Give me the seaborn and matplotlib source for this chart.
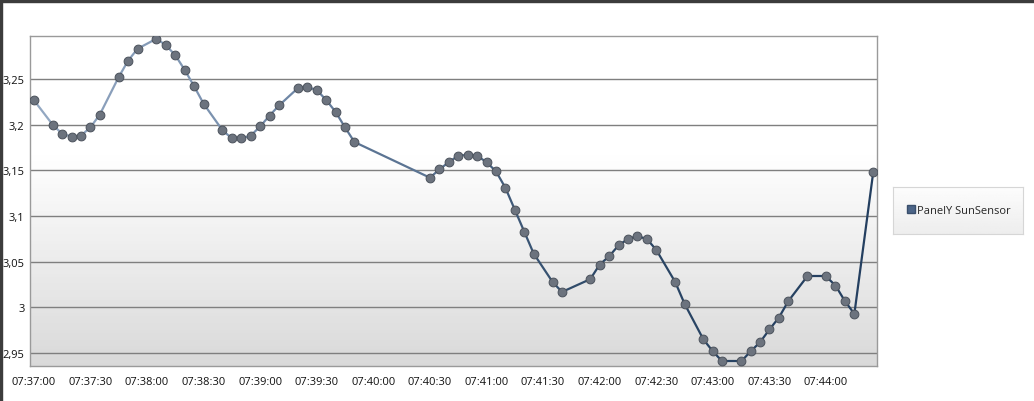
import numpy as np
import pandas as pd
import matplotlib
matplotlib.use("Agg")
import matplotlib.pyplot as plt
import matplotlib.dates as mdates
from matplotlib.colors import LinearSegmentedColormap
from matplotlib.lines import Line2D
from matplotlib.patches import Rectangle
import seaborn as sns

# data (time of sample, sensor value)
times = [
    "07:37:00", "07:37:10", "07:37:15", "07:37:20", "07:37:25", "07:37:30", "07:37:35",
    "07:37:45", "07:37:50", "07:37:55", "07:38:05", "07:38:10", "07:38:15", "07:38:20",
    "07:38:25", "07:38:30", "07:38:40", "07:38:45", "07:38:50", "07:38:55", "07:39:00",
    "07:39:05", "07:39:10", "07:39:20", "07:39:25", "07:39:30", "07:39:35", "07:39:40",
    "07:39:45", "07:39:50", "07:40:30", "07:40:35", "07:40:40", "07:40:45", "07:40:50",
    "07:40:55", "07:41:00", "07:41:05", "07:41:10", "07:41:15", "07:41:20", "07:41:25",
    "07:41:35", "07:41:40", "07:41:55", "07:42:00", "07:42:05", "07:42:10", "07:42:15",
    "07:42:20", "07:42:25", "07:42:30", "07:42:40", "07:42:45", "07:42:55", "07:43:00",
    "07:43:05", "07:43:15", "07:43:20", "07:43:25", "07:43:30", "07:43:35", "07:43:40",
    "07:43:50", "07:44:00", "07:44:05", "07:44:10", "07:44:15", "07:44:25",
]
values = [
    3.227, 3.200, 3.190, 3.187, 3.188, 3.197, 3.211,
    3.252, 3.270, 3.283, 3.294, 3.287, 3.276, 3.260,
    3.242, 3.223, 3.194, 3.185, 3.185, 3.188, 3.198,
    3.210, 3.221, 3.240, 3.241, 3.238, 3.227, 3.214,
    3.197, 3.181, 3.142, 3.151, 3.159, 3.166, 3.167,
    3.166, 3.159, 3.149, 3.131, 3.107, 3.083, 3.059,
    3.028, 3.017, 3.031, 3.047, 3.056, 3.068, 3.075,
    3.078, 3.075, 3.063, 3.028, 3.004, 2.965, 2.952,
    2.941, 2.941, 2.952, 2.962, 2.976, 2.989, 3.007,
    3.034, 3.034, 3.024, 3.007, 2.993, 3.148,
]
series_name = "PanelY SunSensor"
y_ticks = [2.95, 3.0, 3.05, 3.1, 3.15, 3.2, 3.25]
y_tick_labels = ["2,95", "3", "3,05", "3,1", "3,15", "3,2", "3,25"]

df = pd.DataFrame({"time": pd.to_datetime("2020-01-01 " + pd.Series(times)), "value": values})

# split the line into segments so the colour can fade from light to dark blue
seg_rows = []
for i in range(len(df) - 1):
    for j in (i, i + 1):
        seg_rows.append({"time": df["time"][j], "value": df["value"][j], "seg": i})
seg_df = pd.DataFrame(seg_rows)

line_cmap = LinearSegmentedColormap.from_list("fade", ["#93a8c2", "#6f87a6", "#2c4766", "#243f60"])

sns.set_style("white")
plt.rcParams["font.family"] = ["Open Sans", "DejaVu Sans"]

W, H = 1034, 402
fig = plt.figure(figsize=(W / 100, H / 100), dpi=100)
ax = fig.add_axes([30 / W, 35 / H, 847 / W, 330 / H])

# gradient background of the plot area
grad = np.concatenate([np.ones(34), np.linspace(1.0, 0.85, 66)]).reshape(-1, 1)
ax.imshow(grad, cmap="gray", vmin=0, vmax=1, aspect="auto",
          extent=[0, 1, 0, 1], transform=ax.transAxes, zorder=0, origin="upper")

sns.lineplot(data=seg_df, x="time", y="value", hue="seg", units="seg", estimator=None,
             palette=line_cmap, linewidth=1.6, legend=False, ax=ax, zorder=3)
sns.scatterplot(data=df, x="time", y="value", color="#6c737e", edgecolor="#4b525c",
                linewidth=0.7, s=40, ax=ax, zorder=4)

ax.set_ylim(2.936, 3.297)
ax.set_xlim(pd.Timestamp("2020-01-01 07:36:58"), pd.Timestamp("2020-01-01 07:44:27"))
ax.set_yticks(y_ticks)
ax.set_yticklabels(y_tick_labels)
ax.xaxis.set_major_locator(mdates.SecondLocator(bysecond=[0, 30]))
ax.xaxis.set_major_formatter(mdates.DateFormatter("%H:%M:%S"))
ax.set_xlabel("")
ax.set_ylabel("")
ax.grid(axis="y", color="#7f7f7f", linewidth=1.0, zorder=1)
ax.set_axisbelow(True)
for sp in ax.spines.values():
    sp.set_color("#9a9a9a")
    sp.set_linewidth(1.0)
ax.tick_params(axis="both", length=3, width=1, color="#555555", labelsize=8, labelcolor="#111111")
ax.tick_params(axis="y", pad=1)
ax.tick_params(axis="x", pad=4)

# legend box on the right, with a soft gradient
lx0, ly0, lx1, ly1 = 893, 188, 1023, 235
lax = fig.add_axes([lx0 / W, 1 - ly1 / H, (lx1 - lx0) / W, (ly1 - ly0) / H])
lgrad = np.linspace(0.99, 0.93, 50).reshape(-1, 1)
lax.imshow(lgrad, cmap="gray", vmin=0, vmax=1, aspect="auto", extent=[0, 1, 0, 1], origin="upper")
lax.set_xticks([])
lax.set_yticks([])
for sp in lax.spines.values():
    sp.set_color("#d6d6d6")
handle = Line2D([], [], marker="s", linestyle="", markersize=6, markerfacecolor="#4c6588",
                markeredgecolor="#3a4f6c")
lax.legend([handle], [series_name], loc="center", frameon=False, fontsize=8,
           handletextpad=0.1, handlelength=1.0, borderpad=0, borderaxespad=0)

# dark window border at top and left
fig.add_artist(Rectangle((0, 1 - 3 / H), 1, 3 / H, transform=fig.transFigure,
                         color="#3c3c3c", zorder=10))
fig.add_artist(Rectangle((0, 0), 2 / W, 1, transform=fig.transFigure,
                         color="#3c3c3c", zorder=10))

fig.savefig("out.png", dpi=100)
